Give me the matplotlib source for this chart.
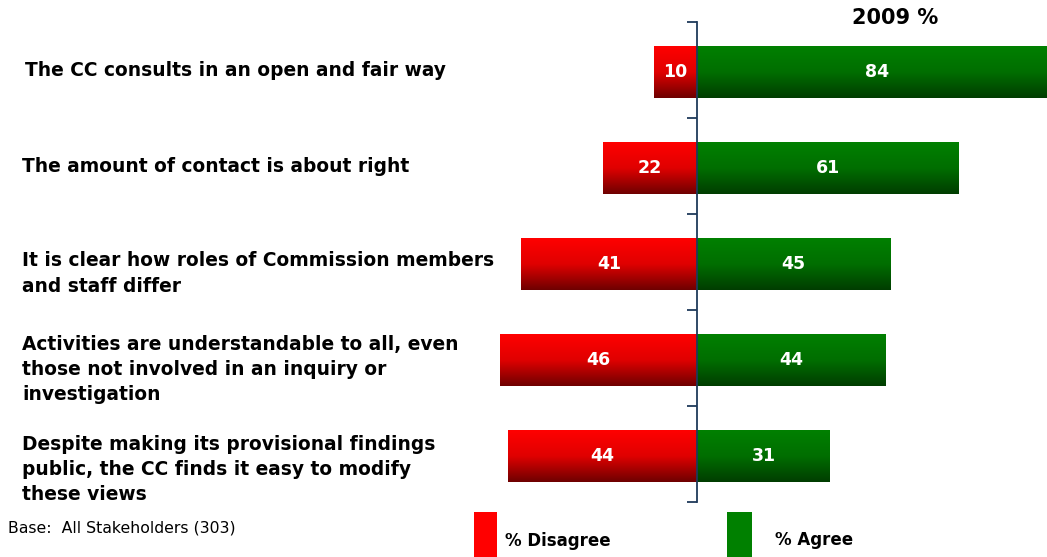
import numpy as np
import matplotlib.pyplot as plt
from matplotlib.patches import Rectangle
from matplotlib.colors import LinearSegmentedColormap
import matplotlib.transforms as mtransforms

statements = [
    "The CC consults in an open and fair way",
    "The amount of contact is about right",
    "It is clear how roles of Commission members\nand staff differ",
    "Activities are understandable to all, even\nthose not involved in an inquiry or\ninvestigation",
    "Despite making its provisional findings\npublic, the CC finds it easy to modify\nthese views",
]
disagree = [10, 22, 41, 46, 44]
agree = [84, 61, 45, 44, 31]

W, H = 1047, 557
fig = plt.figure(figsize=(W / 100, H / 100), dpi=100)
fig.patch.set_facecolor("white")

# axes box in pixels: left 480, right edge of figure, from y=22 down to y=502
ax = fig.add_axes([480 / W, (H - 502) / H, (W - 480) / W, 480 / H])
ax.set_facecolor("none")

px_per_unit = 4.29
xmin = -(697 - 480) / px_per_unit
xmax = (W - 697) / px_per_unit

red_cmap = LinearSegmentedColormap.from_list("red_grad", ["#ff0000", "#e00000", "#6e0000"])
green_cmap = LinearSegmentedColormap.from_list("green_grad", ["#008000", "#006e00", "#003d00"])
grad = np.linspace(0, 1, 256).reshape(-1, 1)

bar_h = 0.54
ypos = np.arange(len(statements)) + 0.52

def gradient_bar(left, width, y, cmap):
    bar = ax.barh(y, width, left=left, height=bar_h, color="none", linewidth=0)[0]
    im = ax.imshow(grad, cmap=cmap, aspect="auto", origin="upper",
                   extent=(left, left + width, y + bar_h / 2, y - bar_h / 2),
                   interpolation="bilinear", zorder=1)
    im.set_clip_path(bar)

for y, d, a in zip(ypos, disagree, agree):
    gradient_bar(-d, d, y, red_cmap)
    gradient_bar(0, a, y, green_cmap)
    ax.text(-d / 2, y, str(d), ha="center", va="center", color="white",
            fontsize=12.5, fontweight="bold", zorder=3)
    ax.text(a / 2, y, str(a), ha="center", va="center", color="white",
            fontsize=12.5, fontweight="bold", zorder=3)

ax.set_xlim(xmin, xmax)
ax.set_ylim(len(statements), 0)

# centre axis with ticks between categories
for s in ["top", "right", "bottom"]:
    ax.spines[s].set_visible(False)
ax.spines["left"].set_position(("data", 0))
ax.spines["left"].set_color("#1f3a5a")
ax.spines["left"].set_linewidth(1.3)
ax.spines["left"].set_zorder(4)
ax.set_yticks(np.arange(len(statements) + 1))
ax.set_yticklabels([])
ax.tick_params(axis="y", direction="out", length=7, width=1.3, color="#1f3a5a")
ax.set_xticks([])

# statement labels on the left
label_shift = [0.0, 0.0, 0.12, 0.12, 0.16]
label_x = [25, 22, 22, 22, 22]
trans = mtransforms.blended_transform_factory(fig.transFigure, ax.transData)
for y, s, dy, lx in zip(ypos, statements, label_shift, label_x):
    ax.text(lx / W, y - 0.02 + dy, s, transform=trans, ha="left", va="center",
            fontsize=13.4, fontweight="bold", linespacing=1.42, clip_on=False)

fig.text(895 / W, 1 - 18 / H, "2009 %", ha="center", va="center",
         fontsize=15, fontweight="bold")
fig.text(8 / W, 1 - 528 / H, "Base:  All Stakeholders (303)", ha="left",
         va="center", fontsize=11.3)

# legend
fig.patches.append(Rectangle((474 / W, 0), 23 / W, 45 / H, transform=fig.transFigure,
                             facecolor="#ff0000", edgecolor="none"))
fig.text(505 / W, 1 - 541 / H, "% Disagree", ha="left", va="center",
         fontsize=12, fontweight="bold")
fig.patches.append(Rectangle((727 / W, 0), 25 / W, 45 / H, transform=fig.transFigure,
                             facecolor="#008000", edgecolor="none"))
fig.text(775 / W, 1 - 540 / H, "% Agree", ha="left", va="center",
         fontsize=12, fontweight="bold")

fig.savefig("out.png", dpi=100)
